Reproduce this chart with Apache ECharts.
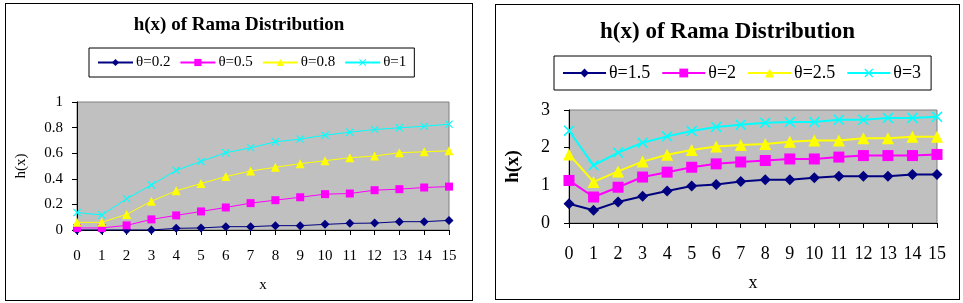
<!DOCTYPE html>
<html>
<head>
<meta charset="utf-8">
<script src="https://cdn.jsdelivr.net/npm/echarts@6/dist/echarts.min.js"></script>
<style>
  body { margin: 0; background: #fff; }
  .box { position: absolute; border: 1px solid #000; background: #fff; }
  #left { left: 5px; top: 3px; width: 466px; height: 296px; }
  #right { left: 495px; top: 4px; width: 463px; height: 294px; }
</style>
</head>
<body>
<div id="left" class="box"></div>
<div id="right" class="box"></div>
<script>
// x values
const xValues = ['0', '1', '2', '3', '4', '5', '6', '7', '8', '9', '10', '11', '12', '13', '14', '15']

// left chart: small theta
const leftNames = ['θ=0.2', 'θ=0.5', 'θ=0.8', 'θ=1']
const theta02 = [0, 0, 0, 0, 0.013, 0.016, 0.026, 0.026, 0.034, 0.034, 0.044, 0.052, 0.054, 0.065, 0.065, 0.075]
const theta05 = [0.016, 0.016, 0.036, 0.083, 0.114, 0.145, 0.176, 0.21, 0.233, 0.256, 0.28, 0.285, 0.311, 0.319, 0.332, 0.339]
const theta08 = [0.06, 0.06, 0.122, 0.225, 0.306, 0.363, 0.417, 0.461, 0.49, 0.518, 0.541, 0.565, 0.578, 0.604, 0.611, 0.619]
const theta1 = [0.137, 0.117, 0.244, 0.352, 0.466, 0.536, 0.604, 0.642, 0.689, 0.71, 0.741, 0.764, 0.785, 0.798, 0.811, 0.826]

// right chart: larger theta
const rightNames = ['θ=1.5', 'θ=2', 'θ=2.5', 'θ=3']
const theta15 = [0.51, 0.34, 0.56, 0.71, 0.85, 0.98, 1.02, 1.1, 1.15, 1.15, 1.2, 1.24, 1.24, 1.24, 1.29, 1.29]
const theta2 = [1.13, 0.69, 0.95, 1.22, 1.35, 1.48, 1.57, 1.62, 1.66, 1.7, 1.7, 1.75, 1.79, 1.79, 1.79, 1.82]
const theta25 = [1.82, 1.09, 1.37, 1.63, 1.81, 1.94, 2.03, 2.07, 2.1, 2.16, 2.19, 2.19, 2.25, 2.25, 2.29, 2.29]
const theta3 = [2.45, 1.53, 1.87, 2.13, 2.3, 2.44, 2.55, 2.61, 2.66, 2.68, 2.68, 2.74, 2.74, 2.79, 2.79, 2.82]

const titleText = 'h(x) of Rama Distribution'
const font = "'Liberation Serif', 'Times New Roman', serif"
const colors = ['#000080', '#ff00ff', '#ffff00', '#00ffff']
const crossPath = 'path://M0,1L1,0L5,4L9,0L10,1L6,5L10,9L9,10L5,6L1,10L0,9L4,5Z'
const symbols = ['diamond', 'rect', 'triangle', crossPath]

const makeSeries = (names, datas, lineWidth, symbolSizes) =>
  names.map((name, i) => ({
    name,
    type: 'line',
    data: datas[i],
    symbol: symbols[i],
    symbolSize: symbolSizes[i],
    showSymbol: true,
    lineStyle: { color: colors[i], width: lineWidth },
    itemStyle: { color: colors[i] },
    animation: false
  }))

const makeOption = (cfg) => ({
  animation: false,
  textStyle: { fontFamily: font },
  title: {
    text: titleText,
    left: 'center',
    top: cfg.titleTop,
    textStyle: { fontFamily: font, fontSize: cfg.titleSize, fontWeight: 'bold', color: '#000' }
  },
  legend: {
    data: cfg.names,
    left: cfg.legendLeft,
    top: cfg.legendTop,
    padding: cfg.legendPadding,
    itemWidth: cfg.itemWidth,
    itemHeight: cfg.itemHeight,
    itemGap: cfg.itemGap,
    borderColor: '#000',
    borderWidth: 1,
    textStyle: { fontFamily: font, fontSize: cfg.legendSize, color: '#000', padding: [0, 0, 0, -2] }
  },
  grid: {
    left: cfg.grid[0],
    top: cfg.grid[1],
    width: cfg.grid[2],
    height: cfg.grid[3],
    show: true,
    backgroundColor: '#c0c0c0',
    borderColor: '#808080',
    borderWidth: 1
  },
  xAxis: {
    type: 'category',
    data: xValues,
    boundaryGap: false,
    name: 'x',
    nameLocation: 'middle',
    nameGap: cfg.xNameGap,
    nameTextStyle: { fontFamily: font, fontSize: cfg.labelSize, color: '#000' },
    axisLine: { lineStyle: { color: '#000', width: 1 } },
    axisTick: { show: true, inside: false, length: 5, alignWithLabel: true, lineStyle: { color: '#000' } },
    axisLabel: { fontFamily: font, fontSize: cfg.labelSize, color: '#000', margin: cfg.xLabelMargin, interval: 0 },
    splitLine: { show: false }
  },
  yAxis: {
    type: 'value',
    min: 0,
    max: cfg.yMax,
    interval: cfg.yInterval,
    name: 'h(x)',
    nameLocation: 'middle',
    nameGap: cfg.yNameGap,
    nameTextStyle: { fontFamily: font, fontSize: cfg.yNameSize, fontWeight: cfg.yNameWeight, color: '#000' },
    axisLine: { show: true, lineStyle: { color: '#000', width: 1 } },
    axisTick: { show: true, inside: false, length: 5, lineStyle: { color: '#000' } },
    axisLabel: { fontFamily: font, fontSize: cfg.labelSize, color: '#000', margin: cfg.yLabelMargin },
    splitLine: { show: false }
  },
  series: makeSeries(cfg.names, cfg.datas, cfg.lineWidth, cfg.symbolSizes)
})

const leftChart = echarts.init(document.getElementById('left'))
leftChart.setOption(makeOption({
  names: leftNames,
  datas: [theta02, theta05, theta08, theta1],
  titleTop: 7,
  titleSize: 19,
  legendLeft: 83,
  legendTop: 44,
  legendPadding: [7, 8, 7, 8],
  itemWidth: 35,
  itemHeight: 9,
  itemGap: 9,
  legendSize: 15,
  grid: [68, 98, 375, 128],
  labelSize: 15,
  xLabelMargin: 19,
  xNameGap: 48,
  yMax: 1,
  yInterval: 0.2,
  yLabelMargin: 14,
  yNameGap: 48,
  yNameSize: 15,
  yNameWeight: 'normal',
  lineWidth: 1,
  symbolSizes: [9, 8, 9, 8]
}))

const rightChart = echarts.init(document.getElementById('right'))
rightChart.setOption(makeOption({
  names: rightNames,
  datas: [theta15, theta2, theta25, theta3],
  titleTop: 11,
  titleSize: 23,
  legendLeft: 58,
  legendTop: 51,
  legendPadding: [8, 10, 8, 8],
  itemWidth: 43,
  itemHeight: 11,
  itemGap: 11,
  legendSize: 18,
  grid: [65, 105, 376, 113],
  labelSize: 18,
  xLabelMargin: 22,
  xNameGap: 51,
  yMax: 3,
  yInterval: 1,
  yLabelMargin: 19,
  yNameGap: 46,
  yNameSize: 19,
  yNameWeight: 'bold',
  lineWidth: 2,
  symbolSizes: [11, 11, 12, 11]
}))
</script>
</body>
</html>
